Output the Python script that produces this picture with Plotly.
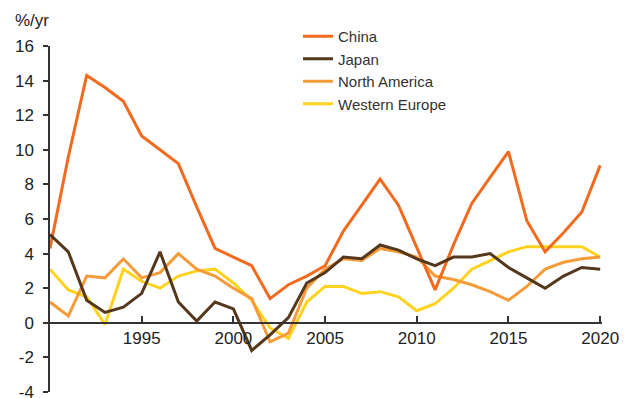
import plotly.graph_objects as go

years = list(range(1990, 2021))

china = [4.3, 9.6, 14.3, 13.6, 12.8, 10.8, 10.0, 9.2, 6.7, 4.3,
         3.8, 3.3, 1.4, 2.2, 2.7, 3.3, 5.3, 6.8, 8.3, 6.8,
         4.4, 1.9, 4.5, 6.9, 8.4, 9.9, 5.9, 4.1, 5.2, 6.4, 9.1]
japan = [5.1, 4.1, 1.3, 0.6, 0.9, 1.7, 4.1, 1.2, 0.1, 1.2,
         0.8, -1.6, -0.7, 0.3, 2.3, 2.9, 3.8, 3.7, 4.5, 4.2,
         3.7, 3.3, 3.8, 3.8, 4.0, 3.2, 2.6, 2.0, 2.7, 3.2, 3.1]
north_america = [1.2, 0.4, 2.7, 2.6, 3.7, 2.6, 2.9, 4.0, 3.1, 2.7,
                 2.0, 1.4, -1.1, -0.6, 2.0, 3.1, 3.7, 3.6, 4.3, 4.1,
                 3.8, 2.7, 2.5, 2.2, 1.8, 1.3, 2.1, 3.1, 3.5, 3.7, 3.8]
western_europe = [3.1, 1.9, 1.5, -0.1, 3.1, 2.4, 2.0, 2.7, 3.0, 3.1,
                  2.3, 1.3, -0.3, -0.9, 1.2, 2.1, 2.1, 1.7, 1.8, 1.5,
                  0.7, 1.1, 2.0, 3.1, 3.6, 4.1, 4.4, 4.4, 4.4, 4.4, 3.8]

x_ticks = [1995, 2000, 2005, 2010, 2015, 2020]
y_ticks = [-4, -2, 0, 2, 4, 6, 8, 10, 12, 14, 16]
y_title = "%/yr"

series = [
    ("Western Europe", western_europe, "#FFD21F", 4),
    ("North America", north_america, "#F59B3A", 3),
    ("China", china, "#F26A1E", 1),
    ("Japan", japan, "#55381C", 2),
]

fig = go.Figure()
for name, vals, color, rank in series:
    fig.add_trace(go.Scatter(
        x=years, y=vals, name=name, mode="lines",
        line=dict(color=color, width=3),
        legendrank=rank,
    ))

# the page body has an 8px default margin, so the figure is 8px smaller
OFF = 8
W, H = 629 - OFF, 398 - OFF
ml, mt = 50 - OFF, 46 - OFF
mr = W - (602 - OFF)
mb = H - (392 - OFF)
ymin, ymax = -4, 16
zero_pos = (0 - ymin) / (ymax - ymin)
plot_h = H - mt - mb
plot_w = W - ml - mr

def px_to_paper_y(py):
    return (H - mb - (py - OFF)) / plot_h

def px_to_paper_x(px):
    return ((px - OFF) - ml) / plot_w

fig.update_layout(
    width=W, height=H,
    margin=dict(l=ml, r=mr, t=mt, b=mb, autoexpand=False),
    paper_bgcolor="white", plot_bgcolor="white",
    font=dict(family="Liberation Sans, Arial, sans-serif", color="#222222"),
    showlegend=True,
    legend=dict(
        x=px_to_paper_x(298), y=px_to_paper_y(20), xanchor="left", yanchor="top",
        bgcolor="rgba(0,0,0,0)", borderwidth=0,
        font=dict(size=15, color="#333333"),
        itemwidth=30, tracegroupgap=0,
    ),
    xaxis=dict(
        range=[1990, 2020.1],
        anchor="free", position=zero_pos,
        showline=True, linecolor="#333333", linewidth=1.5,
        ticks="inside", ticklen=6, tickcolor="#333333", tickwidth=1.5,
        tickvals=x_ticks, ticktext=[str(v) for v in x_ticks],
        tickfont=dict(size=17, color="#222222"),
        ticklabeloverflow="allow",
        showgrid=False, zeroline=False,
    ),
    yaxis=dict(
        range=[ymin, ymax],
        showline=True, linecolor="#333333", linewidth=1.5,
        ticks="outside", ticklen=5, tickcolor="#333333", tickwidth=1.5,
        tickvals=y_ticks, ticktext=[str(v) for v in y_ticks],
        tickfont=dict(size=17, color="#222222"),
        ticklabelstandoff=6, ticklabeloverflow="allow",
        showgrid=False, zeroline=False,
    ),
    annotations=[dict(
        text=y_title, xref="paper", yref="paper",
        x=px_to_paper_x(13), y=px_to_paper_y(21), xanchor="left", yanchor="middle",
        showarrow=False, font=dict(size=17, color="#222222"),
    )],
)

fig.write_html("out.html")
